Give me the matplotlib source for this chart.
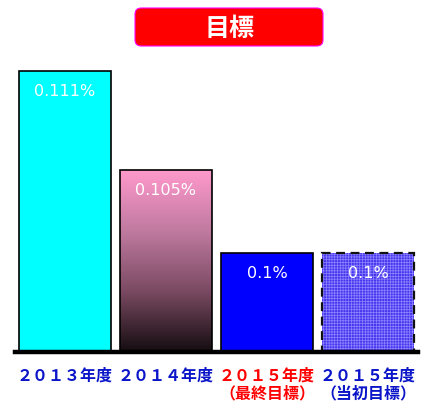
import matplotlib.pyplot as plt
import numpy as np
from matplotlib.patches import FancyBboxPatch
from matplotlib.colors import LinearSegmentedColormap
from matplotlib.transforms import ScaledTranslation

plt.rcParams['font.family'] = ['Noto Sans CJK JP', 'DejaVu Sans']
plt.rcParams['hatch.linewidth'] = 0.5

# data
labels = ['２０１３年度', '２０１４年度', '２０１５年度\n（最終目標）', '２０１５年度\n（当初目標）']
values = [0.111, 0.105, 0.1, 0.1]
value_text = ['0.111%', '0.105%', '0.1%', '0.1%']
label_colors = ['#0a14c8', '#0a14c8', '#ff0000', '#0a14c8']
title = '目標'

fig = plt.figure(figsize=(4.24, 4.06), dpi=100)
ax = fig.add_axes([15 / 424, 53 / 406, 403 / 424, 297 / 406])
ymin, ymax = 0.094, 0.112
x = np.arange(len(values))
w = 0.91

# bar 1: cyan, bar 3: blue
ax.bar(x[0], values[0] - ymin, w, bottom=ymin, color='#00ffff', edgecolor='black', lw=1.2)
ax.bar(x[2], values[2] - ymin, w, bottom=ymin, color='#0000ff', edgecolor='black', lw=1.2)

# bar 2: gradient pink -> black
b2 = ax.bar(x[1], values[1] - ymin, w, bottom=ymin, color='none', edgecolor='black', lw=1.2, zorder=3)
cmap = LinearSegmentedColormap.from_list('pk', ['#140c10', '#7a4a62', '#c07aa0', '#ff99cc'])
grad = np.linspace(0, 1, 256).reshape(-1, 1)
im = ax.imshow(grad, cmap=cmap, origin='lower', aspect='auto',
               extent=[x[1] - w / 2, x[1] + w / 2, ymin, values[1]], zorder=2)
im.set_clip_path(b2.patches[0])

# bar 4: patterned with dashed edge
ax.bar(x[3], values[3] - ymin, w, bottom=ymin, color='#4636ee', edgecolor='#8e84ff', lw=0, hatch='++++++')
ax.bar(x[3], values[3] - ymin, w, bottom=ymin, fill=False, edgecolor='#111111', lw=1.6,
       linestyle=(0, (4, 2.5)), zorder=3)

for xi, v, t in zip(x, values, value_text):
    ax.annotate(t, (xi, v), xytext=(0, -14), textcoords='offset points',
                ha='center', va='center', color='white', fontsize=11.5, zorder=5,
                family=['DejaVu Sans'])

ax.axhline(ymin, color='black', lw=3.2, zorder=4, clip_on=False)
ax.set_xlim(-0.495, 3.495)
ax.set_ylim(ymin, ymax)
ax.axis('off')

# category labels below the baseline
shift = ax.transData + ScaledTranslation(0, -15 / 100, fig.dpi_scale_trans)
for xi, lab, c in zip(x, labels, label_colors):
    ax.text(xi, ymin, lab, transform=shift, ha='center', va='top',
            color=c, fontsize=11.5, fontweight='bold', linespacing=1.1)

# title box
box = FancyBboxPatch((135 / 424, 1 - 47 / 406), 188 / 424, 38 / 406,
                     boxstyle='round,pad=0,rounding_size=0.015', transform=fig.transFigure,
                     facecolor='#ff0000', edgecolor='#ff00ff', lw=0.8)
fig.patches.append(box)
fig.text(229 / 424, 1 - 29 / 406, title, ha='center', va='center', color='white',
         fontsize=18, fontweight='bold')

fig.savefig('out.png', dpi=100)
